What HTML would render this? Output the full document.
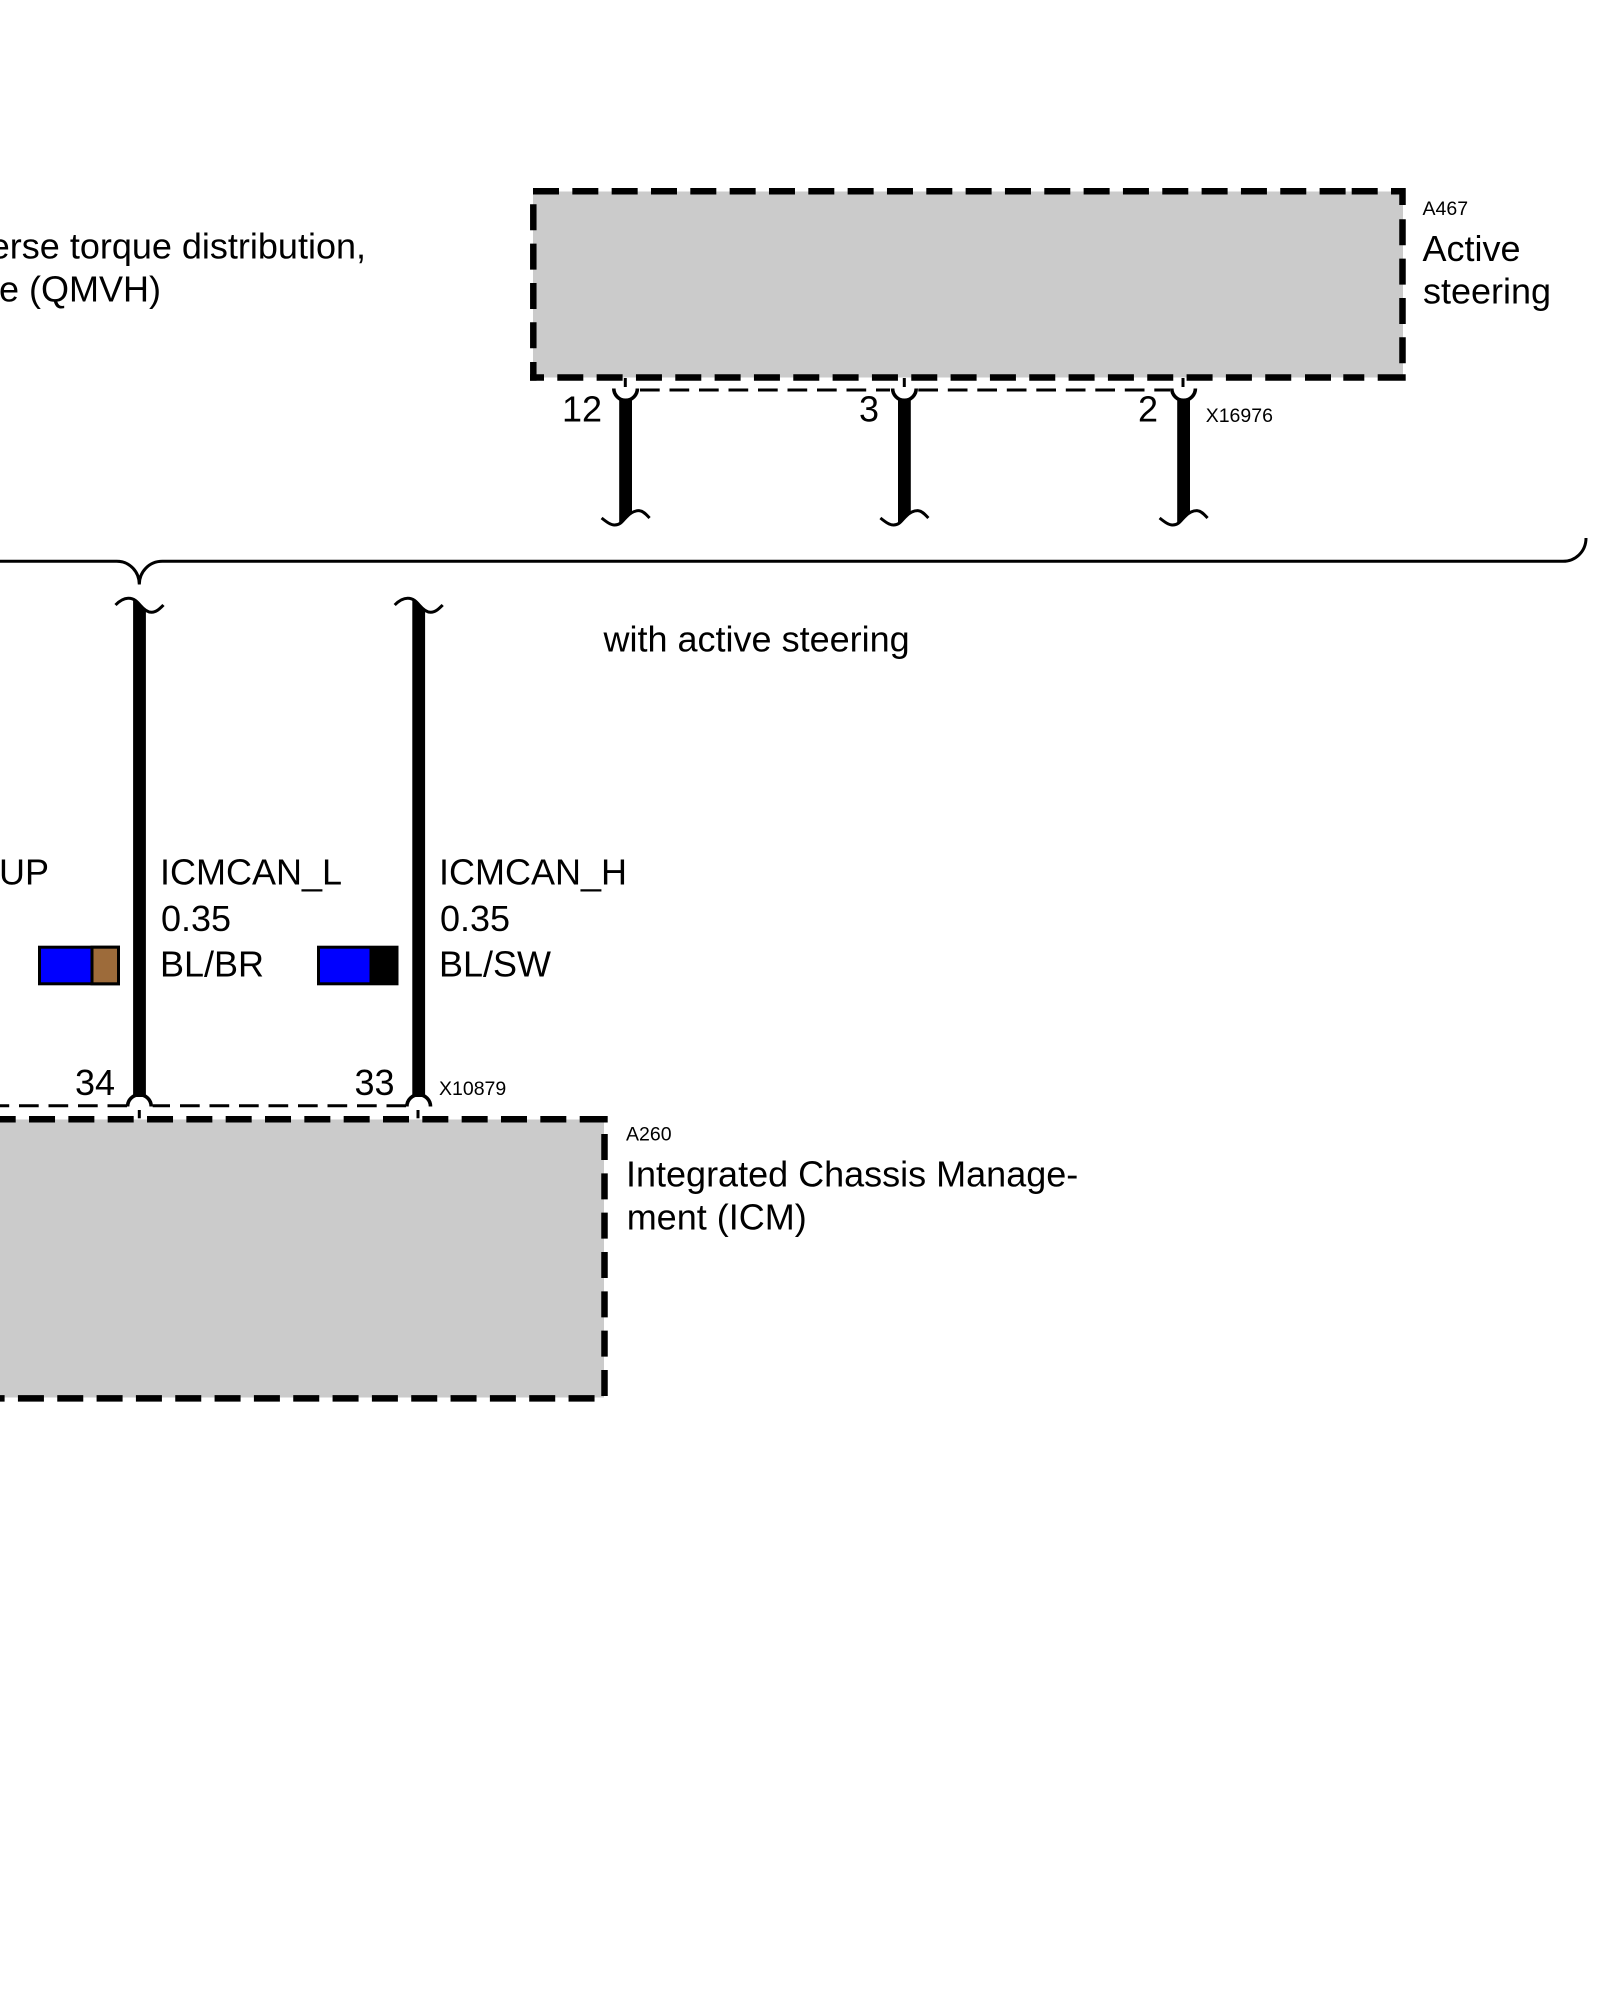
<!DOCTYPE html>
<html>
<head>
<meta charset="utf-8">
<style>
html,body{margin:0;padding:0;background:#fff;width:1600px;height:2000px;overflow:hidden}
svg{display:block}
text{font-family:"Liberation Sans",Arial,sans-serif;fill:#000}
.b{font-size:36px}
.s{font-size:19.5px}
.d{fill:none;stroke:#000;stroke-width:6.5}
.dd{stroke-dasharray:26 13.33}
.t{fill:none;stroke:#000;stroke-width:3}
.a{fill:none;stroke:#000;stroke-width:3.6}
.td{stroke-dasharray:19.7 9.8}
.w{fill:#000}
</style>
</head>
<body>
<svg width="1600" height="2000" viewBox="0 0 1600 2000" xmlns="http://www.w3.org/2000/svg">
<!-- Top box -->
<rect x="533" y="191.5" width="870" height="186" fill="#cbcbcb"/>
<path class="d dd" d="M533 191.3H1346"/>
<path class="d" d="M1351.7 191.3H1377.7M1391 191.3H1405.7M1402.5 188.2V205"/>
<path class="d dd" d="M1402.5 219.3V364"/>
<path class="d" d="M1405.7 377.5H1377.7M1364.3 377.5H1343.3M1331 377.5H1305"/>
<path class="d dd" d="M557.3 377.5H1292"/>
<path class="d" d="M530 377.5H544"/>
<path class="d dd" d="M533.3 204.3V349"/>
<path class="d" d="M533.3 362V380.7"/>

<!-- Top thin dashed -->
<path class="t td" d="M640 390H890"/>
<path class="t td" d="M918.3 390H1170"/>

<!-- Top pins -->
<g transform="translate(625.6 0)">
<path class="a" d="M-11.8 388.5A11.8 11.8 0 0 0 11.8 388.5"/>
<path class="w" d="M-6.4 398.5H6.4V513.5L-6.4 523.5Z"/>
<path class="t" d="M-0.3 378V387"/>
<path class="t" d="M-24 518C-19 522 -15 525 -11 525C-4 525 -2 519 2 516C6 512 10 510.5 14 510.7C18 511 21 515 24 518"/>
</g>
<g transform="translate(904.4 0)">
<path class="a" d="M-11.8 388.5A11.8 11.8 0 0 0 11.8 388.5"/>
<path class="w" d="M-6.4 398.5H6.4V513.5L-6.4 523.5Z"/>
<path class="t" d="M-0.1 378V387"/>
<path class="t" d="M-24 518C-19 522 -15 525 -11 525C-4 525 -2 519 2 516C6 512 10 510.5 14 510.7C18 511 21 515 24 518"/>
</g>
<g transform="translate(1183.6 0)">
<path class="a" d="M-11.8 388.5A11.8 11.8 0 0 0 11.8 388.5"/>
<path class="w" d="M-6.4 398.5H6.4V513.5L-6.4 523.5Z"/>
<path class="t" d="M-0.6 378V387"/>
<path class="t" d="M-24 518C-19 522 -15 525 -11 525C-4 525 -2 519 2 516C6 512 10 510.5 14 510.7C18 511 21 515 24 518"/>
</g>

<!-- Brace -->
<path class="t" d="M-5 561.3H116.7C130 561.3 139.3 572 139.3 584.5C139.3 572 149 561.3 162.3 561.3H1563C1575 561.3 1586 552 1586 538"/>

<!-- Lower wires -->
<g transform="translate(139.5 0)">
<path class="w" d="M-6.4 599.5L6.4 610V1097H-6.4Z"/>
<path class="t" d="M-24 605C-20 601 -15 598.3 -11 598.3C-5 598.3 -2 602 1 605.5C4 609 8 612.3 12 612.3C17 612.3 21 608 24 605"/>
</g>
<g transform="translate(418.7 0)">
<path class="w" d="M-6.4 599.5L6.4 610V1097H-6.4Z"/>
<path class="t" d="M-24 605C-20 601 -15 598.3 -11 598.3C-5 598.3 -2 602 1 605.5C4 609 8 612.3 12 612.3C17 612.3 21 608 24 605"/>
</g>

<!-- Lower thin dashed -->
<path class="t td" d="M-10.5 1105.7H127"/>
<path class="t" d="M152.7 1105.7H170"/>
<path class="t td" d="M180 1105.7H406"/>
<path class="a" d="M127.6 1106.5A11.8 11.8 0 0 1 151.2 1106.5"/>
<path class="a" d="M406.9 1106.5A11.8 11.8 0 0 1 430.5 1106.5"/>
<path class="t" d="M139.3 1110V1118.3"/>
<path class="t" d="M418 1110V1118.3"/>

<!-- Lower box -->
<rect x="0" y="1119.5" width="604" height="278" fill="#cbcbcb"/>
<path class="d dd" d="M-10.3 1119.2H567"/>
<path class="d" d="M579.7 1119.2H607.7"/>
<path class="d dd" d="M604.5 1134V1397"/>
<path class="d dd" d="M-21.4 1398.4H596"/>

<!-- Swatches -->
<rect x="39.5" y="947.2" width="79" height="36.6" fill="#0000ff" stroke="#000" stroke-width="3"/>
<rect x="92" y="947.2" width="26.5" height="36.6" fill="#9d6b3a" stroke="#000" stroke-width="3"/>
<rect x="318.5" y="947.2" width="78.5" height="36.6" fill="#0000ff" stroke="#000" stroke-width="3"/>
<rect x="369.5" y="946" width="28" height="39" fill="#000"/>

<!-- Labels -->
<text class="b" text-anchor="end" x="366" y="258.6">erse torque distribution,</text>
<text class="b" text-anchor="end" x="161" y="301.6">e (QMVH)</text>
<text class="s" x="1422.5" y="215">A467</text>
<text class="b" x="1422.5" y="260.9">Active</text>
<text class="b" x="1423" y="303.5">steering</text>
<text class="b" x="562" y="421.7">12</text>
<text class="b" x="859" y="421.7">3</text>
<text class="b" x="1138" y="421.7">2</text>
<text class="s" x="1205.7" y="421.8">X16976</text>
<text class="b" x="603.5" y="651.7">with active steering</text>

<text class="b" x="-1" y="884.3">UP</text>
<text class="b" x="160" y="884.3">ICMCAN_L</text>
<text class="b" x="161" y="931">0.35</text>
<text class="b" x="160" y="976.3">BL/BR</text>
<text class="b" x="439" y="884.3">ICMCAN_H</text>
<text class="b" x="440" y="931">0.35</text>
<text class="b" x="439" y="976.3">BL/SW</text>
<text class="b" x="75" y="1095">34</text>
<text class="b" x="354.5" y="1095">33</text>
<text class="s" x="439" y="1095">X10879</text>
<text class="s" x="626" y="1140.7">A260</text>
<text class="b" x="626" y="1186.3">Integrated Chassis Manage-</text>
<text class="b" x="626.7" y="1229.5">ment (ICM)</text>
</svg>
</body>
</html>
